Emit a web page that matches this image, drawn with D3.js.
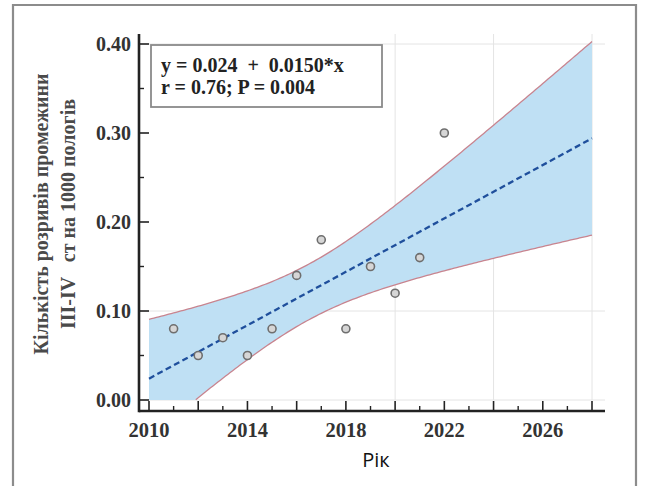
<!DOCTYPE html>
<html>
<head>
<meta charset="utf-8">
<script src="https://cdn.jsdelivr.net/npm/d3@7"></script>
<style>
  html, body { margin: 0; padding: 0; background: #fff; }
  svg { display: block; }
</style>
</head>
<body>
<svg id="chart" width="645" height="486"></svg>
<script>
// Observed rate of grade III-IV perineal tears per 1000 births, by year
const years = [2011, 2012, 2013, 2014, 2015, 2016, 2017, 2018, 2019, 2020, 2021, 2022];
const tearRates = [0.08, 0.05, 0.07, 0.05, 0.08, 0.14, 0.18, 0.08, 0.15, 0.12, 0.16, 0.30];

// Fitted trend (x = years since 2010) as printed in the legend
const baseYear = 2010;
const intercept = 0.024;
const slope = 0.0150;
const legendLines = ["y = 0.024  +  0.0150*x", "r = 0.76; P = 0.004"];

// Axis ticks and labels
const yTickValues = [0.00, 0.10, 0.20, 0.30, 0.40];
const yMinorValues = [0.05, 0.15, 0.25, 0.35];
const xTickLabels = [2010, 2014, 2018, 2022, 2026];
const xMajorTicks = [2010, 2012, 2014, 2016, 2018, 2020, 2022, 2024, 2026, 2028];
const xMinorTicks = [2011, 2013, 2015, 2017, 2019, 2021, 2023, 2025, 2027];
const xGridValues = [2020, 2024, 2028];
const yGridValues = [0.00, 0.10, 0.40];
const xExtent = [2010, 2028];

const yTitleLines = ["Кількість розривів промежини", "III-IV   ст на 1000 пологів"];
const xTitle = "Рік";

const svg = d3.select("#chart");

const x = d3.scaleLinear().domain(xExtent).range([149, 592]);
const y = d3.scaleLinear().domain([0, 0.4]).range([400, 44]);

const axisX = 139, axisY = 411, axisRight = 605, axisTop = 34;
const serif = "'Liberation Serif', 'Times New Roman', serif";

// Outer frame (open at the bottom edge of the page)
svg.append("path")
  .attr("d", `M13,490 L13,5 L636,5 L636,490`)
  .attr("fill", "none").attr("stroke", "#8c8c8c").attr("stroke-width", 2.2);

// Light grid
const grid = svg.append("g").attr("stroke", "#e4e4e4").attr("stroke-width", 1);
grid.selectAll("line.gx").data(xGridValues).join("line")
  .attr("x1", d => x(d)).attr("x2", d => x(d))
  .attr("y1", axisTop).attr("y2", y(0));
grid.selectAll("line.gy").data(yGridValues).join("line")
  .attr("x1", axisX).attr("x2", axisRight)
  .attr("y1", d => y(d)).attr("y2", d => y(d));

// Regression line and 95% confidence band of the fitted mean
const n = years.length;
const xs = years.map(v => v - baseYear);
const xMean = d3.mean(xs);
const sxx = d3.sum(xs, v => (v - xMean) ** 2);
const sse = d3.sum(xs, (v, i) => (tearRates[i] - (intercept + slope * v)) ** 2);
const sErr = Math.sqrt(sse / (n - 2));
const tCrit = 2.228; // two-sided 95%, df = 10

const fit = t => intercept + slope * t;
const halfWidth = t => tCrit * sErr * Math.sqrt(1 / n + (t - xMean) ** 2 / sxx);
const span = d3.range(0, xExtent[1] - baseYear + 0.001, 0.1);
const band = span.map(t => ({
  year: baseYear + t,
  lo: fit(t) - halfWidth(t),
  hi: fit(t) + halfWidth(t)
}));

const clipLo = v => Math.max(0, v);
svg.append("path")
  .datum(band)
  .attr("fill", "#bfe0f4")
  .attr("d", d3.area()
    .x(d => x(d.year))
    .y0(d => y(clipLo(d.lo)))
    .y1(d => y(d.hi)));

const edge = d3.line().x(d => x(d.year)).y(d => y(d.v));
svg.append("path")
  .datum(band.map(d => ({ year: d.year, v: d.hi })))
  .attr("fill", "none").attr("stroke", "#c8848f").attr("stroke-width", 1.3)
  .attr("d", edge);
svg.append("path")
  .datum(band.filter(d => d.lo >= 0).map(d => ({ year: d.year, v: d.lo })))
  .attr("fill", "none").attr("stroke", "#c8848f").attr("stroke-width", 1.3)
  .attr("d", edge);

svg.append("path")
  .datum(xExtent)
  .attr("fill", "none").attr("stroke", "#1f4f9c").attr("stroke-width", 2.3)
  .attr("stroke-dasharray", "6,3.5")
  .attr("d", d3.line().x(d => x(d)).y(d => y(fit(d - baseYear))));

// Observations
svg.append("g").selectAll("circle").data(years).join("circle")
  .attr("cx", d => x(d))
  .attr("cy", (d, i) => y(tearRates[i]))
  .attr("r", 4)
  .attr("fill", "#d6d6d6")
  .attr("stroke", "#6e6e6e")
  .attr("stroke-width", 1.6);

// Axes
const axes = svg.append("g").attr("stroke", "#222");
axes.append("line").attr("x1", axisX).attr("x2", axisX).attr("y1", axisTop).attr("y2", axisY + 1.2)
  .attr("stroke-width", 2.6);
axes.append("line").attr("x1", axisX).attr("x2", axisRight).attr("y1", axisY).attr("y2", axisY)
  .attr("stroke-width", 2.6);

axes.selectAll("line.ymaj").data(yTickValues).join("line")
  .attr("x1", axisX).attr("x2", axisX + 10)
  .attr("y1", d => y(d)).attr("y2", d => y(d)).attr("stroke-width", 1.6);
axes.selectAll("line.ymin").data(yMinorValues).join("line")
  .attr("x1", axisX).attr("x2", axisX + 5)
  .attr("y1", d => y(d)).attr("y2", d => y(d)).attr("stroke-width", 1.4);
axes.selectAll("line.xmaj").data(xMajorTicks).join("line")
  .attr("x1", d => x(d)).attr("x2", d => x(d))
  .attr("y1", axisY).attr("y2", axisY - 10).attr("stroke-width", 1.6);
axes.selectAll("line.xmin").data(xMinorTicks).join("line")
  .attr("x1", d => x(d)).attr("x2", d => x(d))
  .attr("y1", axisY).attr("y2", axisY - 5).attr("stroke-width", 1.4);

// Tick labels
svg.append("g").selectAll("text").data(yTickValues).join("text")
  .attr("x", 131).attr("y", d => y(d)).attr("dy", "0.35em")
  .attr("text-anchor", "end")
  .attr("font-family", serif).attr("font-weight", "bold").attr("font-size", 20)
  .attr("fill", "#333")
  .text(d => d3.format(".2f")(d));

svg.append("g").selectAll("text").data(xTickLabels).join("text")
  .attr("x", d => x(d)).attr("y", 437)
  .attr("text-anchor", "middle")
  .attr("font-family", serif).attr("font-weight", "bold").attr("font-size", 20.5)
  .attr("fill", "#333")
  .text(d => d);

// Axis titles
svg.append("text")
  .attr("x", 376).attr("y", 467)
  .attr("text-anchor", "middle")
  .attr("font-family", "'Open Sans', 'Noto Sans', sans-serif").attr("font-size", 20)
  .attr("fill", "#111")
  .text(xTitle);

const yTitle = svg.append("g").attr("font-family", serif).attr("font-weight", "bold")
  .attr("font-size", 20).attr("fill", "#4a4a4a").attr("text-anchor", "middle");
yTitleLines.forEach((line, i) => {
  yTitle.append("text")
    .attr("transform", `translate(${48 + i * 27},214) rotate(-90)`)
    .style("white-space", "pre")
    .text(line);
});

// Equation legend
const legend = svg.append("g");
legend.append("rect")
  .attr("x", 151).attr("y", 45).attr("width", 231).attr("height", 62)
  .attr("fill", "#fff").attr("stroke", "#8a8a8a").attr("stroke-width", 1.8);
legend.selectAll("text").data(legendLines).join("text")
  .attr("x", 161).attr("y", (d, i) => 72 + i * 22)
  .attr("font-family", serif).attr("font-weight", "bold").attr("font-size", 20)
  .attr("fill", "#222")
  .style("white-space", "pre")
  .text(d => d);
</script>
</body>
</html>
